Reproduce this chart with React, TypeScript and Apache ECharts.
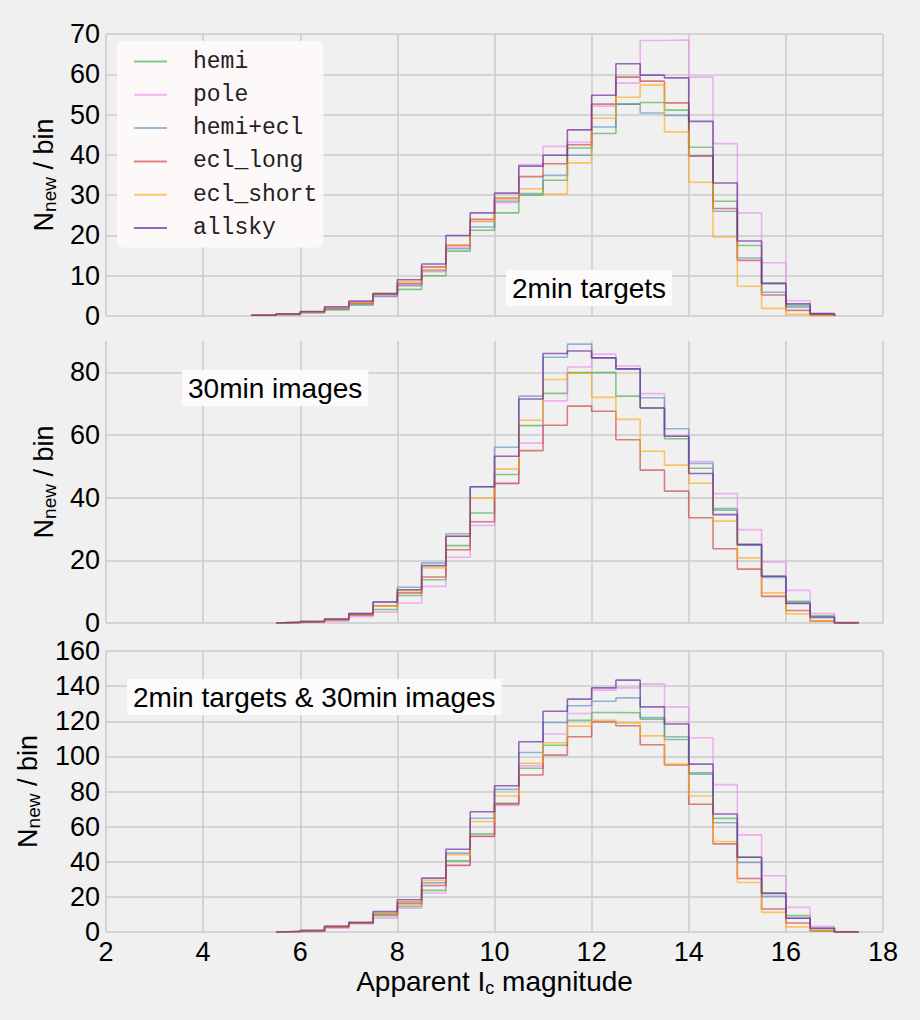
import React, { useEffect, useRef } from "react";
import * as echarts from "echarts";

const seriesNames = ["hemi", "pole", "hemi+ecl", "ecl_long", "ecl_short", "allsky"];
const seriesColors = [
  "rgba(44,160,44,0.55)",
  "rgba(238,130,238,0.6)",
  "rgba(70,130,180,0.55)",
  "rgba(200,50,50,0.6)",
  "rgba(255,165,0,0.6)",
  "rgba(106,44,159,0.7)",
];

const binWidth = 0.5;
const xTicks = [2, 4, 6, 8, 10, 12, 14, 16, 18];

// Panel 1: 2min targets, bins starting at 5.0
const p1Start = 5.0;
const p1Hemi = [0.2, 0.4, 0.8, 1.5, 2.7, 5.3, 6.6, 10.0, 16.1, 21.3, 25.6, 30.0, 33.7, 41.7, 45.3, 52.6, 53.0, 51.1, 41.9, 28.5, 17.5, 8.1, 2.6, 0.4];
const p1Pole = [0.2, 0.4, 0.9, 1.8, 3.0, 4.8, 7.7, 11.0, 17.0, 23.5, 28.1, 37.6, 42.1, 43.1, 52.1, 57.8, 68.4, 68.5, 59.3, 42.8, 25.6, 13.2, 3.8, 0.6];
const p1HemiEcl = [0.2, 0.4, 0.9, 1.7, 3.0, 4.9, 7.5, 11.3, 16.7, 22.1, 28.5, 30.4, 34.9, 39.9, 46.9, 52.6, 50.4, 49.8, 39.7, 26.0, 14.4, 5.9, 2.2, 0.4];
const p1EclLong = [0.2, 0.5, 1.0, 2.0, 3.3, 5.5, 8.0, 12.2, 17.5, 24.0, 29.3, 34.6, 37.8, 42.5, 52.6, 59.3, 58.3, 52.9, 39.7, 26.7, 13.8, 5.2, 1.4, 0.3];
const p1EclShort = [0.3, 0.5, 1.0, 2.0, 3.3, 5.6, 8.4, 11.5, 17.7, 23.5, 28.9, 31.6, 30.3, 38.0, 49.1, 54.3, 57.3, 45.7, 33.2, 19.6, 7.4, 1.9, 0.4, 0.1];
const p1Allsky = [0.2, 0.5, 1.1, 2.3, 3.7, 5.6, 9.0, 12.9, 20.0, 25.6, 30.5, 37.2, 39.9, 46.2, 54.8, 62.6, 59.8, 59.1, 48.3, 33.0, 18.6, 8.1, 3.0, 0.6];

// Panel 2: 30min images, bins starting at 5.5
const p2Start = 5.5;
const p2Hemi = [0.2, 0.5, 1.2, 2.8, 4.3, 8.8, 13.8, 24.7, 35.1, 47.4, 63.0, 73.3, 79.9, 80.0, 72.4, 68.6, 58.8, 49.4, 36.5, 25.0, 14.9, 6.9, 2.3, 0];
const p2Pole = [0.1, 0.3, 0.6, 2.0, 3.5, 6.4, 11.7, 21.0, 31.1, 44.4, 57.4, 70.9, 81.7, 85.8, 82.0, 73.2, 59.6, 51.5, 41.3, 29.8, 19.4, 10.4, 3.0, 0.3];
const p2HemiEcl = [0.2, 0.5, 1.2, 3.0, 6.7, 11.4, 19.2, 28.5, 43.5, 56.1, 72.4, 84.8, 89.0, 84.6, 81.1, 71.9, 62.0, 50.9, 36.0, 25.0, 14.5, 6.5, 1.7, 0];
const p2EclLong = [0.2, 0.4, 1.0, 2.5, 5.5, 9.6, 14.7, 23.4, 32.3, 44.6, 55.0, 63.1, 69.2, 67.6, 58.5, 48.8, 42.1, 33.6, 23.7, 17.2, 8.5, 4.0, 0.6, 0];
const p2EclShort = [0.2, 0.5, 1.1, 2.8, 5.4, 10.3, 17.6, 27.7, 39.9, 49.1, 64.7, 77.7, 79.7, 72.0, 65.0, 54.8, 50.4, 44.6, 32.5, 20.8, 9.6, 2.9, 0.6, 0];
const p2Allsky = [0.2, 0.5, 1.3, 3.0, 6.7, 10.6, 18.3, 27.7, 43.5, 53.2, 71.5, 86.0, 86.8, 84.6, 81.1, 68.6, 59.6, 47.7, 34.6, 25.0, 14.9, 6.2, 1.9, 0];

// Panel 3: 2min targets & 30min images, bins starting at 5.5
const p3Start = 5.5;
const p3Hemi = [0.3, 0.4, 3.0, 5.0, 9.3, 14.6, 23.7, 40.5, 55.9, 73.3, 93.2, 106.3, 120.6, 125.0, 124.8, 121.2, 109.6, 90.7, 64.7, 42.6, 22.2, 9.3, 0.8, 0];
const p3Pole = [0.3, 0.4, 2.1, 4.6, 7.9, 13.6, 22.2, 37.7, 54.3, 72.0, 94.6, 112.7, 124.4, 137.7, 139.0, 141.3, 128.2, 110.6, 83.9, 55.3, 32.0, 14.0, 3.2, 0.3];
const p3HemiEcl = [0.3, 0.6, 3.0, 5.2, 10.8, 17.0, 28.0, 44.9, 64.8, 81.2, 102.2, 119.3, 128.8, 131.4, 133.3, 122.1, 111.2, 89.9, 62.2, 39.6, 20.3, 7.8, 2.1, 0];
const p3EclLong = [0.3, 0.5, 2.8, 5.0, 10.0, 16.1, 26.5, 38.0, 54.5, 72.8, 89.4, 100.7, 111.2, 119.6, 117.4, 106.6, 95.1, 72.7, 50.2, 30.5, 13.1, 5.1, 0.8, 0];
const p3EclShort = [0.3, 0.5, 3.0, 5.0, 10.5, 17.0, 29.4, 44.0, 62.9, 77.4, 96.0, 107.8, 117.2, 120.6, 119.1, 111.7, 95.6, 77.4, 51.5, 28.2, 11.2, 2.9, 0.8, 0];
const p3Allsky = [0.3, 0.9, 3.4, 5.5, 11.7, 18.4, 30.7, 47.1, 68.5, 83.3, 108.3, 125.7, 132.6, 139.0, 143.4, 128.2, 118.4, 95.6, 67.2, 42.6, 22.0, 7.8, 2.1, 0];

const panelStarts = [p1Start, p2Start, p3Start];
const panelData = [
  [p1Hemi, p1Pole, p1HemiEcl, p1EclLong, p1EclShort, p1Allsky],
  [p2Hemi, p2Pole, p2HemiEcl, p2EclLong, p2EclShort, p2Allsky],
  [p3Hemi, p3Pole, p3HemiEcl, p3EclLong, p3EclShort, p3Allsky],
];
const panelYMax = [70, 90, 160];
const panelYInterval = [10, 20, 20];
const panelLabels = ["2min targets", "30min images", "2min targets & 30min images"];

function stepPoints(start: number, vals: number[]) {
  const pts: number[][] = [[start, 0]];
  vals.forEach((v, i) => pts.push([start + i * binWidth, v]));
  const end = start + vals.length * binWidth;
  pts.push([end, vals[vals.length - 1]]);
  pts.push([end, 0]);
  return pts;
}

export default function App() {
  const ref = useRef<HTMLDivElement>(null);
  useEffect(() => {
    document.body.style.margin = "0";
    if (!ref.current) return;
    const chart = echarts.init(ref.current, null, { renderer: "svg" });
    const font = "Liberation Sans";
    const gridTops = [34, 341, 651];
    const gridHeights = [282, 282, 281];
    const nameGaps = [46, 46, 63];
    const grids = gridTops.map((t, i) => ({ left: 106, top: t, width: 777, height: gridHeights[i] }));
    const splitLine = { show: true, lineStyle: { color: "#cbcbcb", width: 1.5 } };
    const xAxes = grids.map((_, i) => ({
      type: "value",
      gridIndex: i,
      min: xTicks[0],
      max: xTicks[xTicks.length - 1],
      interval: 2,
      axisLine: { show: false },
      axisTick: { show: false },
      splitLine,
      axisLabel: { show: i === 2, fontFamily: font, fontSize: 27, color: "#000", margin: 6 },
      name: i === 2 ? "{n|Apparent I}{s|c}{n| magnitude}" : "",
      nameLocation: "middle",
      nameGap: 32,
      nameTextStyle: {
        rich: {
          n: { fontFamily: font, fontSize: 28, color: "#000", lineHeight: 30 },
          s: { fontFamily: font, fontSize: 18, color: "#000", lineHeight: 18, padding: [13, 0, 0, 0], verticalAlign: "bottom" },
        },
      },
    }));
    const yAxes = grids.map((_, i) => ({
      type: "value",
      gridIndex: i,
      min: 0,
      max: panelYMax[i],
      interval: panelYInterval[i],
      axisLine: { show: false },
      axisTick: { show: false },
      splitLine: { ...splitLine, showMaxLine: i !== 1 },
      axisLabel: { fontFamily: font, fontSize: 27, color: "#000", margin: 6, showMaxLabel: i !== 1 },
      name: "{n|N}{s|new}{n| / bin}",
      nameLocation: "middle",
      nameRotate: 90,
      nameGap: nameGaps[i],
      nameTextStyle: {
        rich: {
          n: { fontFamily: font, fontSize: 27, color: "#000", lineHeight: 30 },
          s: { fontFamily: font, fontSize: 19, color: "#000", lineHeight: 19, padding: [12, 0, 0, 0], verticalAlign: "bottom" },
        },
      },
    }));
    const series: any[] = [];
    panelData.forEach((panel, p) => {
      panel.forEach((vals, k) => {
        series.push({
          type: "line",
          name: seriesNames[k],
          xAxisIndex: p,
          yAxisIndex: p,
          step: "end",
          symbol: "none",
          data: stepPoints(panelStarts[p], vals),
          lineStyle: { color: seriesColors[k], width: 1.6 },
          itemStyle: { color: seriesColors[k] },
          z: 2 + k,
        });
      });
    });
    const labelPos = [
      { left: 506, top: 270 },
      { left: 182, top: 370 },
      { left: 127, top: 679 },
    ];
    const graphics = panelLabels.map((t, i) => ({
      type: "text",
      left: labelPos[i].left,
      top: labelPos[i].top,
      z: 100,
      style: {
        text: t,
        font: `28px "${font}"`,
        fill: "#000",
        backgroundColor: "#fcfafa",
        padding: [4, 6, 4, 6],
      },
    }));
    chart.setOption({
      animation: false,
      backgroundColor: "#f0f0f0",
      grid: grids,
      xAxis: xAxes,
      yAxis: yAxes,
      legend: {
        data: seriesNames,
        orient: "vertical",
        left: 117,
        top: 41,
        icon: "rect",
        itemWidth: 33,
        itemHeight: 2,
        itemGap: 10.3,
        padding: [9, 6, 8, 17],
        backgroundColor: "#fcf9f8",
        borderRadius: 5,
        textStyle: { fontFamily: "Liberation Mono", fontSize: 23, color: "#222", padding: [0, 0, 0, 21], lineHeight: 20 },
      },
      graphic: graphics,
      series,
    });
    return () => chart.dispose();
  }, []);
  return <div ref={ref} style={{ width: 920, height: 1020 }} />;
}
